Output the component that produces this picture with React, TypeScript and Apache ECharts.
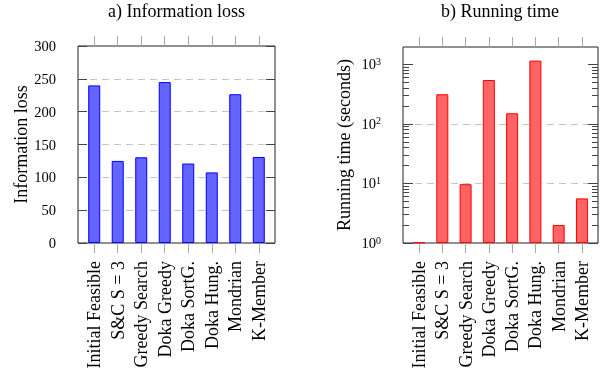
import React, { useEffect, useRef } from "react";
import * as echarts from "echarts";

// Methods compared in both panels
const methods = [
  "Initial Feasible",
  "S&C S = 3",
  "Greedy Search",
  "Doka Greedy",
  "Doka SortG.",
  "Doka Hung.",
  "Mondrian",
  "K-Member",
];

// a) Information loss per method
const infoLoss = [240, 125, 130.5, 245, 121, 107.5, 226.5, 131];
// b) Running time per method (seconds, log scale)
const runningTime = [1.02, 313, 9.7, 543, 150, 1150, 2.0, 5.6];

const lossTicks = [0, 50, 100, 150, 200, 250, 300];
const timeMajorTicks = [1, 10, 100, 1000];
const timeMinorTicks = [
  2, 3, 4, 5, 6, 7, 8, 9,
  20, 30, 40, 50, 60, 70, 80, 90,
  200, 300, 400, 500, 600, 700, 800, 900,
];
const methodPositions = [0, 1, 2, 3, 4, 5, 6, 7];

const FONT = "Liberation Serif";
const TEXT_SIZE = 18;
const NUM_SIZE = 14.5;

export default function App() {
  const ref = useRef<HTMLDivElement>(null);

  useEffect(() => {
    if (!ref.current) return;
    const chart = echarts.init(ref.current, undefined, { renderer: "svg" });

    const xMin = -0.69;
    const xMax = 7.69;

    const catAxis = (gridIndex: number, position: "top" | "bottom") => ({
      type: "value",
      gridIndex,
      position,
      min: xMin,
      max: xMax,
      axisLine: { show: false, onZero: false },
      splitLine: { show: false },
      axisTick: {
        show: true,
        inside: false,
        length: 10,
        customValues: methodPositions,
        lineStyle: { color: "#aaaaaa", width: 1 },
      },
      axisLabel: {
        show: position === "bottom",
        customValues: methodPositions,
        rotate: 90,
        margin: 18,
        fontFamily: FONT,
        fontSize: TEXT_SIZE,
        color: "#000",
        formatter: (v: number) => methods[Math.round(v)] ?? "",
      },
    });

    const dashed = {
      show: true,
      showMinLine: false,
      showMaxLine: false,
      lineStyle: { color: "#c4c4c4", type: [7, 5], width: 1 },
    };

    const sideTicks = (
      type: "value" | "log",
      gridIndex: number,
      position: "left" | "right",
      values: number[],
      length: number,
      extra: Record<string, unknown>
    ) => ({
      type,
      gridIndex,
      position,
      axisLine: { show: false, onZero: false },
      axisTick: {
        show: true,
        inside: true,
        length,
        customValues: values,
        lineStyle: { color: "#444" },
      },
      axisLabel: { show: false },
      splitLine: { show: false },
      ...extra,
    });

    const lossScale = { min: 0, max: 300, interval: 50 };
    const timeScale = { logBase: 10, min: 1, max: 1945 };

    chart.setOption({
      animation: false,
      grid: [
        {
          left: 78,
          top: 46,
          width: 197,
          height: 197,
          show: true,
          borderColor: "#222",
          borderWidth: 1,
          backgroundColor: "transparent",
        },
        {
          left: 403,
          top: 47,
          width: 195,
          height: 196,
          show: true,
          borderColor: "#222",
          borderWidth: 1,
          backgroundColor: "transparent",
        },
      ],
      graphic: [
        {
          type: "text",
          x: 176.5,
          y: 2,
          style: {
            text: "a) Information loss",
            fontFamily: FONT,
            fontSize: TEXT_SIZE,
            fill: "#000",
            textAlign: "center",
          },
        },
        {
          type: "text",
          x: 500,
          y: 2,
          style: {
            text: "b) Running time",
            fontFamily: FONT,
            fontSize: TEXT_SIZE,
            fill: "#000",
            textAlign: "center",
          },
        },
      ],
      xAxis: [
        catAxis(0, "bottom"),
        catAxis(0, "top"),
        catAxis(1, "bottom"),
        catAxis(1, "top"),
      ],
      yAxis: [
        {
          ...sideTicks("value", 0, "left", lossTicks, 9, lossScale),
          axisLabel: {
            show: true,
            customValues: lossTicks,
            margin: 22,
            fontFamily: FONT,
            fontSize: NUM_SIZE,
            color: "#000",
          },
          splitLine: dashed,
          name: "Information loss",
          nameLocation: "middle",
          nameRotate: 90,
          nameGap: 48,
          nameTextStyle: { fontFamily: FONT, fontSize: TEXT_SIZE, color: "#000" },
        },
        sideTicks("value", 0, "right", lossTicks, 9, lossScale),
        {
          ...sideTicks("log", 1, "left", timeMajorTicks, 10, timeScale),
          axisLabel: {
            show: true,
            customValues: timeMajorTicks,
            margin: 22,
            color: "#000",
            formatter: (v: number) => `{b|10}{s|${Math.round(Math.log10(v))}}`,
            rich: {
              b: { fontFamily: FONT, fontSize: NUM_SIZE, color: "#000" },
              s: {
                fontFamily: FONT,
                fontSize: 10,
                color: "#000",
                verticalAlign: "top",
                padding: [0, 0, 6, 0],
              },
            },
          },
          splitLine: dashed,
          name: "Running time (seconds)",
          nameLocation: "middle",
          nameRotate: 90,
          nameGap: 50,
          nameTextStyle: { fontFamily: FONT, fontSize: TEXT_SIZE, color: "#000" },
        },
        sideTicks("log", 1, "left", timeMinorTicks, 6, timeScale),
        sideTicks("log", 1, "right", timeMajorTicks, 10, timeScale),
        sideTicks("log", 1, "right", timeMinorTicks, 6, timeScale),
      ],
      series: [
        {
          type: "bar",
          xAxisIndex: 0,
          yAxisIndex: 0,
          barWidth: 12,
          data: infoLoss.map((v, i) => [methodPositions[i], v]),
          itemStyle: { color: "#6464ff", borderColor: "#0000ff", borderWidth: 1 },
        },
        {
          type: "bar",
          xAxisIndex: 2,
          yAxisIndex: 2,
          barWidth: 12,
          data: runningTime.map((v, i) => [methodPositions[i], v]),
          itemStyle: { color: "#ff6464", borderColor: "#ff0000", borderWidth: 1 },
        },
      ],
    });

    return () => chart.dispose();
  }, []);

  return (
    <div
      ref={ref}
      style={{ position: "fixed", left: 0, top: 0, width: 608, height: 381 }}
    />
  );
}
